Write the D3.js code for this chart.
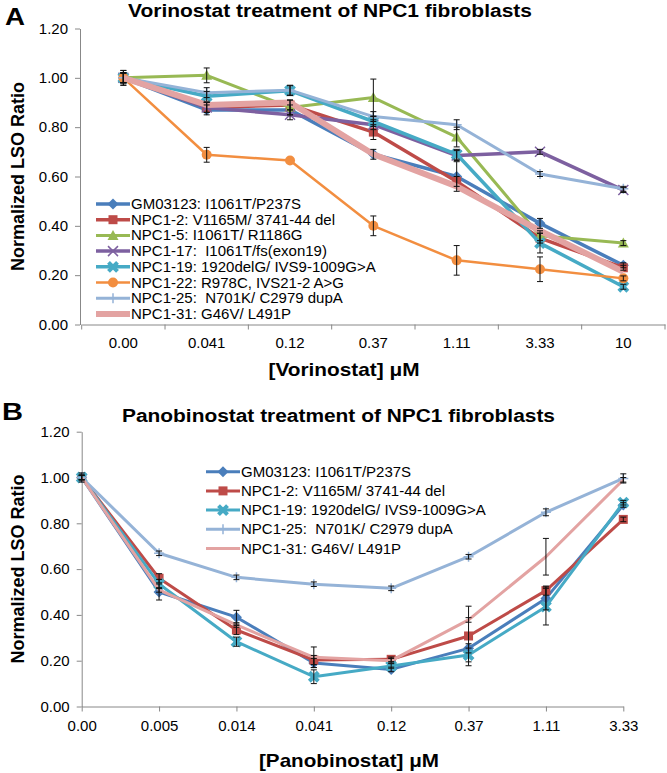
<!DOCTYPE html>
<html><head><meta charset="utf-8">
<script src="https://cdn.jsdelivr.net/npm/d3@7"></script>
<style>body{margin:0;background:#fff} text{font-family:"Liberation Sans",Arial,sans-serif;fill:#000}</style>
</head><body><svg id="c" width="667" height="773"></svg>
<script>
// ---------- Panel A data ----------
const catsA = ["0.00","0.041","0.12","0.37","1.11","3.33","10"];
const namesA = ["GM03123: I1061T/P237S","NPC1-2: V1165M/ 3741-44 del","NPC1-5: I1061T/ R1186G","NPC1-17:  I1061T/fs(exon19)","NPC1-19: 1920delG/ IVS9-1009G>A","NPC1-22: R978C, IVS21-2 A>G","NPC1-25:  N701K/ C2979 dupA","NPC1-31: G46V/ L491P"];
const gm03123A = [1.00,0.87,0.87,0.69,0.60,0.41,0.24];
const npc1_2A  = [1.00,0.88,0.89,0.78,0.58,0.35,0.23];
const npc1_5A  = [1.00,1.01,0.88,0.92,0.76,0.36,0.33];
const npc1_17A = [1.00,0.88,0.85,0.81,0.685,0.70,0.545];
const npc1_19A = [1.00,0.925,0.948,0.823,0.69,0.33,0.153];
const npc1_22A = [1.00,0.688,0.665,0.40,0.26,0.224,0.187];
const npc1_25A = [1.00,0.94,0.95,0.843,0.81,0.61,0.55];
const npc1_31A = [1.00,0.89,0.90,0.69,0.56,0.38,0.214];
const errA = [
  [0.03,0.02,0.02,0.02,0.06,0.02,0.01],
  [0.02,0.02,0.02,0.03,0.02,0.02,0.01],
  [0.02,0.03,0.03,0.075,0.04,0.02,0.01],
  [0.02,0.02,0.02,0.02,0.02,0.01,0.01],
  [0.02,0.02,0.02,0.02,0.02,0.04,0.01],
  [0.03,0.03,0.00,0.04,0.06,0.05,0.01],
  [0.02,0.02,0.02,0.02,0.02,0.01,0.01],
  [0,0,0,0,0,0,0]
];
// ---------- Panel B data ----------
const catsB = ["0.00","0.005","0.014","0.041","0.12","0.37","1.11","3.33"];
const namesB = ["GM03123: I1061T/P237S","NPC1-2: V1165M/ 3741-44 del","NPC1-19: 1920delG/ IVS9-1009G>A","NPC1-25:  N701K/ C2979 dupA","NPC1-31: G46V/ L491P"];
const gm03123B = [1.00,0.50,0.39,0.19,0.162,0.254,0.472,0.88];
const npc1_2B  = [1.00,0.56,0.334,0.203,0.206,0.308,0.506,0.817];
const npc1_19B = [1.00,0.535,0.283,0.13,0.177,0.225,0.436,0.89];
const npc1_25B = [1.00,0.669,0.564,0.534,0.516,0.654,0.848,0.996];
const npc1_31B = [1.00,0.509,0.356,0.215,0.20,0.378,0.654,0.99];
const errB = [
  [0.02,0.035,0.03,0.02,0.01,0.02,0.05,0.01],
  [0.01,0.02,0.02,0.02,0.01,0.13,0.02,0.01],
  [0.01,0.02,0.02,0.03,0.01,0.03,0.08,0.01],
  [0.01,0.01,0.01,0.01,0.01,0.01,0.015,0.02],
  [0.01,0.01,0.01,0.045,0.01,0.01,0.08,0.01]
];
const yTicks = [0,0.2,0.4,0.6,0.8,1.0,1.2];

const svg = d3.select("#c");
const C = {blue:"#4A7EBB",red:"#BE4B48",green:"#98B954",purple:"#7D60A0",aqua:"#46AAC5",orange:"#F28E40",lblue:"#95B3D7",pink:"#E3A3A2"};

function marker(g,type,color,x,y){
  if(type==="diamond") g.append("path").attr("d",`M${x},${y-5.5}L${x+5.5},${y}L${x},${y+5.5}L${x-5.5},${y}Z`).attr("fill",color);
  else if(type==="square") g.append("rect").attr("x",x-4.5).attr("y",y-4.5).attr("width",9).attr("height",9).attr("fill",color);
  else if(type==="triangle") g.append("path").attr("d",`M${x},${y-5.5}L${x+5.5},${y+4.5}L${x-5.5},${y+4.5}Z`).attr("fill",color);
  else if(type==="circle") g.append("circle").attr("cx",x).attr("cy",y).attr("r",5).attr("fill",color);
  else if(type==="cross"||type==="xthick"){
    const s = type==="cross"?5:4.5, w = type==="cross"?1.5:4;
    g.append("path").attr("d",`M${x-s},${y-s}L${x+s},${y+s}M${x-s},${y+s}L${x+s},${y-s}`).attr("stroke",color).attr("stroke-width",w).attr("fill","none");
  } else if(type==="plus"){
    g.append("path").attr("d",`M${x-5},${y}L${x+5},${y}M${x},${y-5}L${x},${y+5}`).attr("stroke",color).attr("stroke-width",1.5);
  }
}

function boldText(g,x,y,size,len,txt,anchor){
  return g.append("text").attr("x",x).attr("y",y).attr("text-anchor",anchor||"middle").attr("font-size",size).attr("font-weight","bold")
    .attr("textLength",len).attr("lengthAdjust","spacingAndGlyphs").text(txt);
}

function panel(o){
  const g = svg.append("g");
  const y = d3.scaleLinear().domain([0,1.2]).range([o.y0,o.y1]);
  const ya = g.append("g").attr("transform",`translate(${o.xAxisX},0)`)
    .call(d3.axisLeft(y).tickValues(yTicks).tickFormat(d3.format(".2f")).tickSize(5).tickSizeOuter(0));
  ya.select(".domain").attr("stroke","#888");
  ya.selectAll(".tick line").attr("stroke","#888");
  ya.selectAll(".tick text").attr("font-size",15).attr("x",-12).style("font-family","Liberation Sans, Arial");
  let xpos;
  if(o.band){
    const xb = d3.scaleBand().domain(o.cats).range([o.x0,o.x1]);
    xpos = c=>xb(c)+xb.bandwidth()/2;
    const xa = g.append("g").attr("transform",`translate(0,${o.y0})`).call(d3.axisBottom(xb).tickSize(0).tickPadding(13));
    xa.select(".domain").attr("stroke","#888");
    xa.selectAll(".tick text").attr("font-size",15).style("font-family","Liberation Sans, Arial");
    const bounds = o.cats.map(c=>xb(c)).concat([xb(o.cats[o.cats.length-1])+xb.bandwidth()]);
    g.selectAll(".bt").data(bounds).join("line").attr("x1",d=>d).attr("x2",d=>d).attr("y1",o.y0).attr("y2",o.y0+5).attr("stroke","#888");
  } else {
    const xp = d3.scalePoint().domain(o.cats).range([o.x0,o.x1]);
    xpos = c=>xp(c);
    const xa = g.append("g").attr("transform",`translate(0,${o.y0})`).call(d3.axisBottom(xp).tickSize(5).tickSizeOuter(0).tickPadding(9));
    xa.select(".domain").attr("stroke","#888");
    xa.selectAll(".tick line").attr("stroke","#888");
    xa.selectAll(".tick text").attr("font-size",15).style("font-family","Liberation Sans, Arial");
  }
  const line = d3.line().x((d,i)=>xpos(o.cats[i])).y(d=>y(d));
  o.series.forEach((s,k)=>{
    g.append("path").attr("d",line(s.values)).attr("fill","none").attr("stroke",s.color).attr("stroke-width",s.w).attr("stroke-linejoin","round");
    s.values.forEach((v,i)=>{ if(s.m) marker(g,s.m,s.color,xpos(o.cats[i]),y(v)); });
  });
  o.series.forEach((s,k)=>{
    s.values.forEach((v,i)=>{
      const e = o.err[k][i]; if(!e) return;
      const x = xpos(o.cats[i]);
      g.append("path").attr("d",`M${x},${y(v+e)}V${y(v-e)}M${x-3},${y(v+e)}H${x+3}M${x-3},${y(v-e)}H${x+3}`).attr("stroke","#111").attr("stroke-width",1).attr("fill","none");
    });
  });
  o.series.forEach((s,k)=>{
    const ly = o.ly + k*o.lstep;
    g.append("line").attr("x1",o.lx).attr("x2",o.lx+34).attr("y1",ly).attr("y2",ly).attr("stroke",s.color).attr("stroke-width",s.w);
    if(s.m) marker(g,s.m,s.color,o.lx+17,ly);
    g.append("text").attr("x",o.lx+35).attr("y",ly+5).attr("font-size",15).style("white-space","pre").text(s.name);
  });
  boldText(g,o.tx,o.ty,17.5,o.tlen,o.title);
  boldText(g,o.lblX,o.lblY,24,o.lblLen,o.label,"start");
  g.append("text").attr("transform",`translate(24,${(o.y0+o.y1)/2}) rotate(-90)`).attr("text-anchor","middle").attr("font-size",18).attr("font-weight","bold").text("Normalized LSO Ratio");
  boldText(g,o.xtX,o.xtY,18.5,o.xtLen,o.xtitle);
}

panel({
  cats:catsA, band:true, x0:81.7, x1:665, xAxisX:80, y0:324.5, y1:28.5,
  series:[
    {name:namesA[0],values:gm03123A,color:C.blue,m:"diamond",w:3.5},
    {name:namesA[1],values:npc1_2A,color:C.red,m:"square",w:3.5},
    {name:namesA[2],values:npc1_5A,color:C.green,m:"triangle",w:3},
    {name:namesA[3],values:npc1_17A,color:C.purple,m:"cross",w:3.5},
    {name:namesA[4],values:npc1_19A,color:C.aqua,m:"xthick",w:3.5},
    {name:namesA[5],values:npc1_22A,color:C.orange,m:"circle",w:2.5},
    {name:namesA[6],values:npc1_25A,color:C.lblue,m:"plus",w:3},
    {name:namesA[7],values:npc1_31A,color:C.pink,m:null,w:6}
  ],
  err:errA, lx:96, ly:204, lstep:15.7,
  title:"Vorinostat treatment of NPC1 fibroblasts", tx:330, ty:17, tlen:404, label:"A", lblX:5, lblY:25, lblLen:20,
  xtitle:"[Vorinostat] μM", xtX:344, xtY:375.5, xtLen:151
});
panel({
  cats:catsB, band:false, x0:81.7, x1:623.3, xAxisX:81.7, y0:706.5, y1:431.7,
  series:[
    {name:namesB[0],values:gm03123B,color:C.blue,m:"diamond",w:3},
    {name:namesB[1],values:npc1_2B,color:C.red,m:"square",w:3},
    {name:namesB[2],values:npc1_19B,color:C.aqua,m:"xthick",w:3},
    {name:namesB[3],values:npc1_25B,color:C.lblue,m:"plus",w:3},
    {name:namesB[4],values:npc1_31B,color:C.pink,m:null,w:3}
  ],
  err:errB, lx:206, ly:471.7, lstep:19.2,
  title:"Panobinostat treatment of NPC1 fibroblasts", tx:338.5, ty:421.5, tlen:433, label:"B", lblX:2, lblY:420, lblLen:21,
  xtitle:"[Panobinostat] μM", xtX:349, xtY:766.5, xtLen:180
});
</script></body></html>
